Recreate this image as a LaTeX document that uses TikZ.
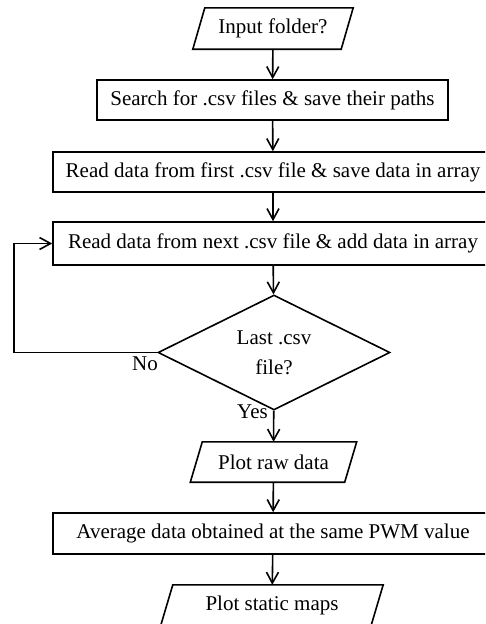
\documentclass[tikz,border=0pt]{standalone}
\usepackage{fontspec}
\setmainfont{Liberation Serif}
\usetikzlibrary{shapes.geometric,arrows.meta,calc}
\tikzset{
  lw/.style={line width=1.6pt},
  procbox/.style={draw, lw, rectangle, minimum height=40pt, inner sep=0pt, font=\fontsize{21}{24}\selectfont},
  iobox/.style={rectangle, minimum height=41pt, inner sep=0pt, font=\fontsize{21}{24}\selectfont},
  slant/.style={draw, lw, line join=miter},
  decbox/.style={draw, lw, diamond, aspect=2, minimum width=232pt, minimum height=115pt, inner sep=0pt, align=center, font=\fontsize{21}{30}\selectfont},
  arr/.style={lw, -{Straight Barb[length=11pt,width=12pt,line width=1.6pt]}},
  lbl/.style={font=\fontsize{21}{24}\selectfont, inner sep=0pt}
}
\begin{document}
\begin{tikzpicture}[x=1pt,y=-1pt]
\useasboundingbox (0,0) rectangle (485,624);
\clip (0,0) rectangle (485,624);
\node[iobox, minimum width=148pt] (in) at (273,28.5) {Input folder?};
\node[procbox, minimum width=351pt] (s1) at (272.5,100) {Search for .csv files \& save their paths};
\node[procbox, minimum width=440pt] (r1) at (273,172) {Read data from first .csv file \& save data in array};
\node[procbox, minimum width=440pt, minimum height=43pt] (r2) at (273,243.5) {Read data from next .csv file \& add data in array};
\node[decbox] (d1) at (274,352.5) {Last .csv\\file?};
\node[iobox, minimum width=154pt, minimum height=40pt] (p2) at (273.5,462) {Plot raw data};
\node[procbox, minimum width=440pt, minimum height=41pt] (r3) at (273,533.5) {Average data obtained at the same PWM value};
\node[iobox, minimum width=210pt, minimum height=40pt] (p3) at (272,605) {Plot static maps};
% parallelogram outlines
\draw[slant] ($(in.north west)+(6,0)$) -- ($(in.north east)+(6,0)$) -- ($(in.south east)+(-6,0)$) -- ($(in.south west)+(-6,0)$) -- cycle;
\draw[slant] ($(p2.north west)+(6,0)$) -- ($(p2.north east)+(6,0)$) -- ($(p2.south east)+(-6,0)$) -- ($(p2.south west)+(-6,0)$) -- cycle;
\draw[slant] ($(p3.north west)+(6,0)$) -- ($(p3.north east)+(6,0)$) -- ($(p3.south east)+(-6,0)$) -- ($(p3.south west)+(-6,0)$) -- cycle;
\coordinate (lp) at (14,352.5);
\draw[arr] (in) -- (s1);
\draw[arr] (s1) -- (r1);
\draw[arr] (r1) -- (r2);
\draw[arr] (r2) -- (d1);
\draw[arr] (d1) -- (p2);
\draw[arr] (p2) -- (r3);
\draw[arr] (r3) -- (p3);
\draw[arr] (d1.west) -- (lp) |- (r2.west);
\node[lbl, anchor=north east] (no) at (158,357) {No};
\node[lbl, anchor=north east] (yes) at (268,405) {Yes};
\end{tikzpicture}
\end{document}
